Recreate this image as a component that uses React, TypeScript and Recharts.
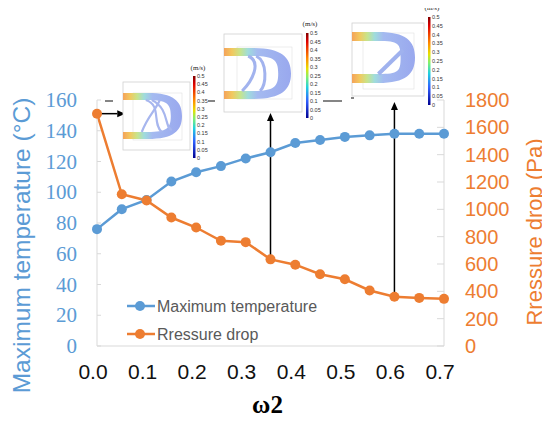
import React from 'react';
import { LineChart, Line, XAxis, YAxis, Legend, ReferenceLine } from 'recharts';

// ---- data ----
const omega2 = [0, 0.05, 0.1, 0.15, 0.2, 0.25, 0.3, 0.35, 0.4, 0.45, 0.5, 0.55, 0.6, 0.65, 0.7];
const maxTemperature = [76, 89, 95, 107, 113, 117, 122, 126, 132, 134, 136, 137, 138, 138, 138];
const pressureDrop = [1700, 1110, 1065, 940, 867, 770, 760, 634, 595, 525, 488, 406, 360, 352, 345];
const xTicks = [0, 0.1, 0.2, 0.3, 0.4, 0.5, 0.6, 0.7];
const tempTicks = [0, 20, 40, 60, 80, 100, 120, 140, 160];
const pressureTicks = [0, 200, 400, 600, 800, 1000, 1200, 1400, 1600, 1800];
const colorbarLabels = ['0.5', '0.45', '0.4', '0.35', '0.3', '0.25', '0.2', '0.15', '0.1', '0.05', '0'];
// annotation arrows (data coordinates on x / right axis)
const arrowStarts = [{ x: 0, y: 1700 }, { x: 0.35, y: 634 }, { x: 0.6, y: 360 }];
const arrowEnds = [{ x: 0.057, y: 1700 }, { x: 0.35, y: 1705 }, { x: 0.6, y: 1786 }];

const data = omega2.map((w, i) => ({ w, temp: maxTemperature[i], pressure: pressureDrop[i] }));

const W = 542;
const H = 413;
const BLUE = '#5B9BD5';
const ORANGE = '#ED7D31';
const AXIS = '#D9D9D9';
const SANS = "'Liberation Sans', Arial, sans-serif";
const SERIF = "'Liberation Serif', 'Times New Roman', serif";

const LeftTick = (p: any) => (
  <g>
    <line x1={p.x + 20} x2={p.x + 24} y1={p.y} y2={p.y} stroke={AXIS} strokeWidth={1} />
    <text x={p.x} y={p.y} dy={7} textAnchor="end" fill={BLUE} fontFamily={SERIF} fontSize={21}>
      {p.payload.value}
    </text>
  </g>
);

const RightTick = (p: any) => (
  <g>
    <line x1={p.x - 28} x2={p.x - 21} y1={p.y} y2={p.y} stroke={AXIS} strokeWidth={1} />
    <text x={p.x} y={p.y} dy={7} textAnchor="start" fill={ORANGE} fontFamily={SANS} fontSize={20}>
      {p.payload.value}
    </text>
  </g>
);

const XTick = (p: any) => (
  <text x={p.x - 4} y={p.y + 33} textAnchor="middle" fill="#111" fontFamily={SANS} fontSize={21}>
    {Number(p.payload.value).toFixed(1)}
  </text>
);

const ArrowShape = (p: any) => {
  const { x1, y1, x2, y2 } = p;
  const dx = x2 - x1;
  const dy = y2 - y1;
  const len = Math.hypot(dx, dy) || 1;
  const ux = dx / len;
  const uy = dy / len;
  const hl = 8;
  const hw = 3.5;
  const bx = x2 - ux * hl;
  const by = y2 - uy * hl;
  return (
    <g>
      <line x1={x1} y1={y1} x2={bx} y2={by} stroke="#000" strokeWidth={1.5} />
      <polygon
        points={`${x2},${y2} ${bx - uy * hw},${by + ux * hw} ${bx + uy * hw},${by - ux * hw}`}
        fill="#000"
      />
    </g>
  );
};

const LegendContent = (props: any) => {
  const payload = props.payload || [];
  return (
    <svg width={230} height={58} style={{ display: 'block' }}>
      {payload.map((e: any, i: number) => {
        const cy = 14 + i * 28;
        return (
          <g key={i}>
            <line x1={9} x2={37} y1={cy} y2={cy} stroke={e.color} strokeWidth={2.5} />
            <circle cx={22} cy={cy} r={5} fill={e.color} />
            <text x={39} y={cy} dy={5.5} fill="#595959" fontFamily={SANS} fontSize={16}>
              {e.value}
            </text>
          </g>
        );
      })}
    </svg>
  );
};

// ---- decorative velocity-field insets ----
type InsetCfg = {
  box: [number, number, number, number];
  inner: [number, number, number, number];
  xL: number; xR: number; yT: number; yB: number; t: number;
  cb: [number, number, number];
  unit: [number, number];
  kind: number;
};
const insets: InsetCfg[] = [
  { box: [115, 74, 67, 68], inner: [125, 85, 49, 47], xL: 115, xR: 174, yT: 85, yB: 131, t: 7, cb: [185, 68, 82], unit: [190, 62], kind: 1 },
  { box: [216, 26, 78, 78], inner: [229, 39, 55, 52], xL: 216, xR: 283, yT: 40, yB: 91, t: 8, cb: [298, 25, 85], unit: [302, 18], kind: 2 },
  { box: [344, 15, 72, 73], inner: [355, 25, 51, 56], xL: 344, xR: 407, yT: 24, yB: 75, t: 9, cb: [420, 9, 88], unit: [424, 2], kind: 3 },
];

function dShape(xL: number, xR: number, yT: number, yB: number, t: number) {
  const xM = xL + (xR - xL) * 0.42;
  const yMid = (yT + yB) / 2;
  const ti = t * 1.6;
  return [
    `M ${xL} ${yT} L ${xM} ${yT}`,
    `C ${xM + (xR - xM) * 0.75} ${yT} ${xR} ${yT + (yMid - yT) * 0.35} ${xR} ${yMid}`,
    `C ${xR} ${yB - (yB - yMid) * 0.35} ${xM + (xR - xM) * 0.75} ${yB} ${xM} ${yB}`,
    `L ${xL} ${yB} L ${xL} ${yB - t} L ${xM} ${yB - t}`,
    `C ${xM + (xR - xM) * 0.55} ${yB - t} ${xR - ti} ${yB - (yB - yMid) * 0.45} ${xR - ti} ${yMid}`,
    `C ${xR - ti} ${yT + (yMid - yT) * 0.45} ${xM + (xR - xM) * 0.55} ${yT + t} ${xM} ${yT + t}`,
    `L ${xL} ${yT + t} Z`,
  ].join(' ');
}

const Inset = ({ c, idx }: { c: InsetCfg; idx: number }) => {
  const [bx, by, bw, bh] = c.box;
  const [ix, iy, iw, ih] = c.inner;
  const [cx, cy, ch] = c.cb;
  const xM = c.xL + (c.xR - c.xL) * 0.42;
  const yMid = (c.yT + c.yB) / 2;
  return (
    <g>
      <rect x={bx} y={by} width={bw} height={bh} fill="#fff" stroke="#d0d0d0" strokeWidth={0.8} />
      <rect x={ix} y={iy} width={iw} height={ih} fill="none" stroke="#e0e0e0" strokeWidth={0.6} />
      <path d={dShape(c.xL, c.xR, c.yT, c.yB, c.t)} fill={`url(#body${idx})`} fillRule="evenodd" />
      {c.kind === 1 && (
        <g fill="none" stroke="#a7b6ee" strokeWidth={2.2}>
          <path d={`M ${xM - 2} ${c.yT + c.t} C ${xM + 14} ${c.yT + 12} ${xM + 4} ${c.yB - 16} ${xM + 14} ${c.yB - c.t}`} />
          <path d={`M ${xM + 4} ${c.yT + c.t} C ${xM + 22} ${c.yT + 16} ${xM + 16} ${c.yB - 12} ${xM + 24} ${c.yB - c.t - 2}`} />
          <path d={`M ${xM - 6} ${c.yB - c.t} C ${xM} ${yMid} ${xM + 8} ${yMid - 6} ${xM + 12} ${c.yT + c.t}`} />
        </g>
      )}
      {c.kind === 2 && (
        <g fill="none" stroke="#a2b3ee" strokeWidth={3}>
          <path d={`M ${xM - 4} ${c.yT + c.t} C ${xM + 10} ${c.yT + 14} ${xM} ${c.yB - 18} ${xM - 10} ${c.yB - c.t}`} />
          <path d={`M ${xM + 4} ${c.yT + c.t} C ${xM + 16} ${c.yT + 14} ${xM + 14} ${c.yB - 14} ${xM + 8} ${c.yB - c.t}`} />
        </g>
      )}
      {c.kind === 3 && (
        <g fill="none" stroke="#a0b2ee" strokeWidth={4}>
          <path d={`M ${xM} ${c.yB - c.t} L ${c.xR - 12} ${c.yT + 18}`} />
        </g>
      )}
      <rect x={cx} y={cy} width={2.5} height={ch} fill="url(#jet)" />
      {colorbarLabels.map((l, i) => (
        <text key={i} x={cx + 4} y={cy + (ch * i) / 10} dy={2} fontSize={5.5} fill="#333" fontFamily={SANS}>
          {l}
        </text>
      ))}
      <text x={c.unit[0]} y={c.unit[1]} textAnchor="middle" fontSize={7} fill="#222" fontFamily={SERIF}>
        (m/s)
      </text>
    </g>
  );
};

const Overlay = () => (
  <svg
    width={W}
    height={H}
    style={{ position: 'absolute', left: 0, top: 0, overflow: 'visible', pointerEvents: 'none' }}
  >
    <defs>
      <linearGradient id="jet" x1="0" y1="0" x2="0" y2="1">
        <stop offset="0" stopColor="#7f0000" />
        <stop offset="0.1" stopColor="#e00000" />
        <stop offset="0.3" stopColor="#ff8c00" />
        <stop offset="0.42" stopColor="#e8e000" />
        <stop offset="0.52" stopColor="#80f070" />
        <stop offset="0.64" stopColor="#20d0e0" />
        <stop offset="0.8" stopColor="#3060ff" />
        <stop offset="1" stopColor="#000090" />
      </linearGradient>
      {insets.map((c, i) => (
        <linearGradient key={i} id={`body${i}`} x1="0" y1="0" x2="1" y2="0">
          <stop offset="0" stopColor="#f4a35a" />
          <stop offset="0.12" stopColor="#f2c85e" />
          <stop offset="0.24" stopColor="#c8e48a" />
          <stop offset="0.36" stopColor="#9fdcdc" />
          <stop offset="0.5" stopColor="#a4baf0" />
          <stop offset="1" stopColor="#99a8ee" />
        </linearGradient>
      ))}
    </defs>
    {insets.map((c, i) => (
      <Inset key={i} c={c} idx={i} />
    ))}
    <g stroke="#333" strokeWidth={1.2}>
      <line x1={97} x2={105} y1={93} y2={93} />
      <line x1={200} x2={207} y1={93} y2={93} />
      <line x1={315} x2={334} y1={93} y2={93} />
      <line x1={343} x2={346} y1={90} y2={90} />
    </g>
  </svg>
);

export default function App() {
  return (
    <div style={{ position: 'relative', width: W, height: H }}>
      <LineChart width={W} height={H} data={data} margin={{ top: 92, right: 0, bottom: 0, left: 0 }}>
        <XAxis
          dataKey="w"
          type="number"
          domain={[0, 0.7]}
          ticks={xTicks}
          interval={0}
          height={75}
          axisLine={{ stroke: AXIS, strokeWidth: 1 }}
          tickLine={false}
          tickSize={0}
          tickMargin={0}
          tick={(p: any) => <XTick {...p} />}
          label={{
            content: (lp: any) => {
              const vb = lp.viewBox || { x: 89, y: 338, width: 347 };
              return (
                <text
                  x={vb.x + vb.width / 2 - 3}
                  y={vb.y + 67}
                  textAnchor="middle"
                  fontFamily={SERIF}
                  fontWeight="bold"
                  fontSize={25}
                  fill="#000"
                >
                  ω2
                </text>
              );
            },
          }}
        />
        <YAxis
          yAxisId="left"
          domain={[0, 160]}
          ticks={tempTicks}
          interval={0}
          width={89}
          axisLine={{ stroke: AXIS, strokeWidth: 1 }}
          tickLine={false}
          tickSize={0}
          tickMargin={20}
          tick={(p: any) => <LeftTick {...p} />}
          label={{
            content: (lp: any) => {
              const vb = lp.viewBox || { x: 0, y: 92.5, width: 89, height: 246 };
              const x = vb.x + 22;
              const y = vb.y + vb.height / 2 + 22.5;
              return (
                <text
                  x={x}
                  y={y}
                  transform={`rotate(-90, ${x}, ${y})`}
                  textAnchor="middle"
                  fontFamily={SANS}
                  fontSize={24.5}
                  fill={BLUE}
                >
                  Maximum temperature (°C)
                </text>
              );
            },
          }}
        />
        <YAxis
          yAxisId="right"
          orientation="right"
          domain={[0, 1800]}
          ticks={pressureTicks}
          interval={0}
          width={106}
          axisLine={{ stroke: AXIS, strokeWidth: 1 }}
          tickLine={false}
          tickSize={0}
          tickMargin={21}
          tick={(p: any) => <RightTick {...p} />}
          label={{
            content: (lp: any) => {
              const vb = lp.viewBox || { x: 436, y: 92.5, width: 106, height: 246 };
              const x = vb.x + 98;
              const y = vb.y + vb.height / 2 + 9;
              return (
                <text
                  x={x}
                  y={y}
                  transform={`rotate(-90, ${x}, ${y})`}
                  textAnchor="middle"
                  fontFamily={SANS}
                  fontSize={22}
                  fill={ORANGE}
                >
                  Rressure drop (Pa)
                </text>
              );
            },
          }}
        />
        <Legend
          layout="vertical"
          align="center"
          verticalAlign="middle"
          wrapperStyle={{ left: 110, top: 284, width: 230, height: 58 }}
          content={(p: any) => <LegendContent {...p} />}
        />
        <Line
          yAxisId="left"
          dataKey="temp"
          name="Maximum temperature"
          stroke={BLUE}
          strokeWidth={2.5}
          dot={{ r: 5, fill: BLUE, stroke: BLUE, strokeWidth: 0 }}
          activeDot={false}
          isAnimationActive={false}
        />
        <Line
          yAxisId="right"
          dataKey="pressure"
          name="Rressure drop"
          stroke={ORANGE}
          strokeWidth={2.5}
          dot={{ r: 5, fill: ORANGE, stroke: ORANGE, strokeWidth: 0 }}
          activeDot={false}
          isAnimationActive={false}
        />
        {arrowStarts.map((s, i) => (
          <ReferenceLine
            key={i}
            yAxisId="right"
            segment={[s, arrowEnds[i]]}
            ifOverflow="visible"
            shape={(p: any) => <ArrowShape {...p} />}
          />
        ))}
      </LineChart>
      <Overlay />
    </div>
  );
}
